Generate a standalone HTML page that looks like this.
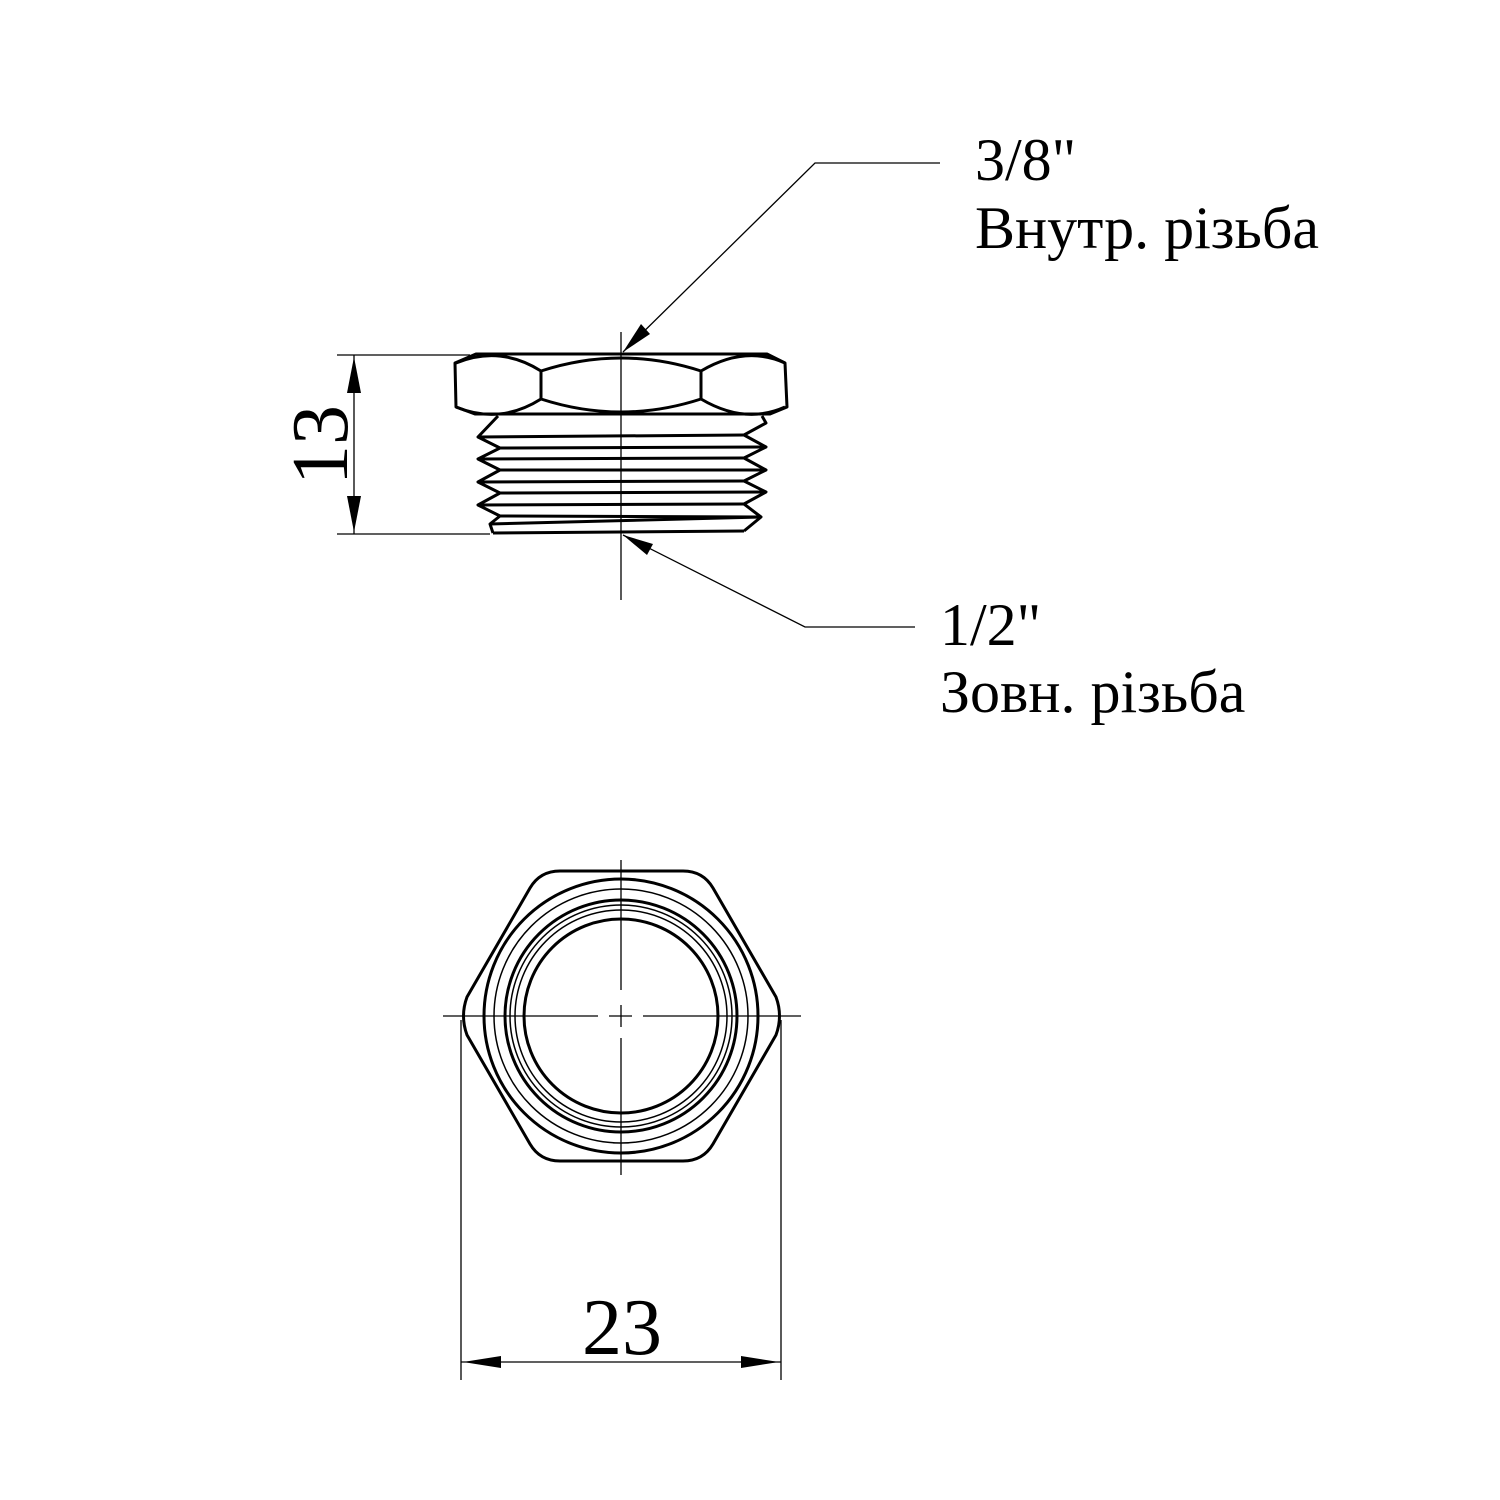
<!DOCTYPE html>
<html><head><meta charset="utf-8"><style>
html,body{margin:0;padding:0;background:#fff;}
svg{display:block;}
text{font-family:"Liberation Serif",serif;fill:#000;}
</style></head><body>
<svg width="1500" height="1500" viewBox="0 0 1500 1500" xmlns="http://www.w3.org/2000/svg">
<rect width="1500" height="1500" fill="#fff"/>
<g fill="none" stroke="#000" stroke-width="1.3">
  <line x1="621" y1="332" x2="621" y2="600"/>
  <line x1="621" y1="860" x2="621" y2="990"/>
  <line x1="621" y1="1005" x2="621" y2="1027"/>
  <line x1="621" y1="1038" x2="621" y2="1175"/>
  <line x1="443" y1="1016" x2="598" y2="1016"/>
  <line x1="609" y1="1016" x2="632" y2="1016"/>
  <line x1="643" y1="1016" x2="801" y2="1016"/>
  <line x1="337" y1="355" x2="470" y2="355"/>
  <line x1="337" y1="534" x2="490" y2="534"/>
  <line x1="354" y1="355" x2="354" y2="534"/>
  <line x1="461" y1="1020" x2="461" y2="1380"/>
  <line x1="781" y1="1020" x2="781" y2="1380"/>
  <line x1="461" y1="1362" x2="781" y2="1362"/>
  <polyline points="940,163 815,163 623,352"/>
  <polyline points="915,627 805,627 623,535"/>
</g>
<g fill="#000">
  <polygon points="354,357 347,393 361,393"/>
  <polygon points="354,532 347,496 361,496"/>
  <polygon points="463,1362 501,1356 501,1368"/>
  <polygon points="779,1362 741,1356 741,1368"/>
  <polygon points="623,352 641,324 650,334"/>
  <polygon points="623,535 653,544 647,555"/>
</g>
<g fill="none" stroke="#000" stroke-width="3" stroke-linejoin="round">
  <polygon points="476,354 767,354 785,363 787,407 770,414 475,414 456,407 455,363"/>
  <path d="M541,371 Q621,345 701,371"/>
  <path d="M541,399 Q621,425 701,399"/>
  <line x1="541" y1="371" x2="541" y2="399"/>
  <line x1="701" y1="371" x2="701" y2="399"/>
  <path d="M456,363 Q500,345 541,371"/>
  <path d="M701,371 Q745,345 785,363"/>
  <path d="M456,407 Q500,425 541,399"/>
  <path d="M701,399 Q745,425 785,407"/>
  <polyline points="498,416 478,437 500,448 478,459 500,470 478,482 500,493 478,505 500,516 490,524 493,533"/>
  <polyline points="762,416 766,423 744,435 766,447 744,458 766,470 744,481 766,492 744,504 761,517 744,531"/>
  <line x1="478" y1="437" x2="744" y2="435"/>
  <line x1="500" y1="448" x2="766" y2="447"/>
  <line x1="478" y1="459" x2="744" y2="458"/>
  <line x1="500" y1="470" x2="766" y2="470"/>
  <line x1="478" y1="482" x2="744" y2="481"/>
  <line x1="500" y1="493" x2="766" y2="492"/>
  <line x1="478" y1="505" x2="744" y2="504"/>
  <line x1="500" y1="516" x2="761" y2="517"/>
  <line x1="490" y1="524" x2="761" y2="517"/>
  <line x1="493" y1="533" x2="744" y2="531"/>
</g>
<g fill="none" stroke="#000" stroke-linejoin="round">
  <path stroke-width="3" d="M560,871 L683,871 Q703,871 713,888 L776,997 Q783,1016 776,1035 L713,1144 Q703,1161 683,1161 L560,1161 Q540,1161 530,1144 L467,1035 Q460,1016 467,997 L530,888 Q540,871 560,871 Z"/>
  <circle cx="621" cy="1016" r="137" stroke-width="3"/>
  <circle cx="621" cy="1016" r="127" stroke-width="1.5"/>
  <circle cx="621" cy="1016" r="116" stroke-width="3"/>
  <circle cx="621" cy="1016" r="111" stroke-width="1.5"/>
  <circle cx="621" cy="1016" r="106" stroke-width="1.5"/>
  <circle cx="621" cy="1016" r="97" stroke-width="3"/>
</g>
<text x="975" y="180" font-size="60">3/8"</text>
<text x="975" y="248" font-size="60">Внутр. різьба</text>
<text x="940" y="645" font-size="60">1/2"</text>
<text x="940" y="712" font-size="60">Зовн. різьба</text>
<text x="0" y="0" font-size="80" text-anchor="middle" transform="translate(347,445) rotate(-90)">13</text>
<text x="622" y="1354" font-size="80" text-anchor="middle">23</text>
</svg>
</body></html>
